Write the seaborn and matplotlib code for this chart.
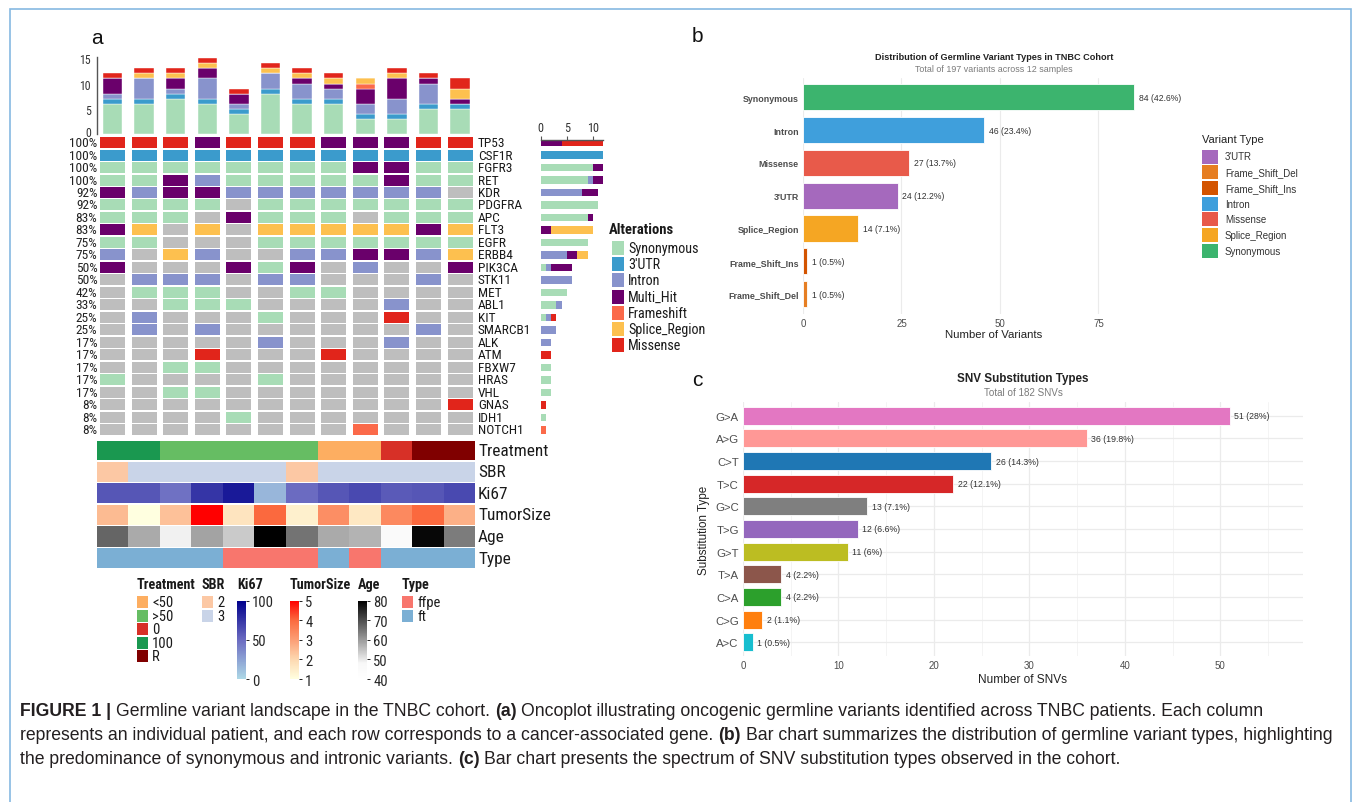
import numpy as np
import pandas as pd
import matplotlib
matplotlib.use("Agg")
import matplotlib.pyplot as plt
import matplotlib.transforms as mtrans
import seaborn as sns
from matplotlib.colors import ListedColormap, LinearSegmentedColormap, Normalize
from matplotlib.patches import Rectangle
from matplotlib.cm import ScalarMappable
from matplotlib import font_manager as fm

W, H, DPI = 1354, 803, 100

# ---------------- data: panel a (oncoplot) ----------------
samples = [f"P{i}" for i in range(1, 13)]
genes = ["TP53", "CSF1R", "FGFR3", "RET", "KDR", "PDGFRA", "APC", "FLT3", "EGFR",
         "ERBB4", "PIK3CA", "STK11", "MET", "ABL1", "KIT", "SMARCB1", "ALK", "ATM",
         "FBXW7", "HRAS", "VHL", "GNAS", "IDH1", "NOTCH1"]
gene_pct_labels = ["100%", "100%", "100%", "100%", "92%", "92%", "83%", "83%", "75%",
                   "75%", "50%", "50%", "42%", "33%", "25%", "25%", "17%", "17%",
                   "17%", "17%", "17%", "8%", "8%", "8%"]
# codes: G Synonymous, U 3'UTR, I Intron, M Multi_Hit, F Frameshift, S Splice_Region, R Missense, . none
onco_rows = [
    "RRRMRRRMMMRR",  # TP53
    "UUUUUUUUUUUU",  # CSF1R
    "GGGGGGGGMMGG",  # FGFR3
    "GGMIGGGGGMGG",  # RET
    "MIMMIIIIIII.",  # KDR
    "GGGG.GGGGGGG",  # PDGFRA
    "GGG.MGGG.GGG",  # APC
    "MS.S.SSSSSMS",  # FLT3
    "GG...GGGGGGG",  # EGFR
    "I.SI..IIMMIS",  # ERBB4
    "M...MGM.I..M",  # PIK3CA
    ".III.II...I.",  # STK11
    ".GGG..GG....",  # MET
    "..GGG....I..",  # ABL1
    ".I...G...R..",  # KIT
    ".I.I......I.",  # SMARCB1
    ".....I...I..",  # ALK
    "...R...R....",  # ATM
    "..GG........",  # FBXW7
    "G....G......",  # HRAS
    "..GG........",  # VHL
    "...........R",  # GNAS
    "....G.......",  # IDH1
    "........F...",  # NOTCH1
]
alt_codes = ["G", "U", "I", "M", "F", "S", "R"]
alt_names = ["Synonymous", "3'UTR", "Intron", "Multi_Hit", "Frameshift", "Splice_Region", "Missense"]
alt_colors = ["#a8dcb6", "#3b9bcc", "#8893cc", "#6a006b", "#fb6a4a", "#fdc04f", "#e1251b"]
bg_gray = "#bebebe"

treatment = ["100", "100", ">50", ">50", ">50", ">50", ">50", "<50", "<50", "0", "R", "R"]
treatment_levels = ["<50", ">50", "0", "100", "R"]
treatment_colors = ["#fdae61", "#66bd63", "#d73027", "#1a9850", "#800000"]
sbr = ["2", "3", "3", "3", "3", "3", "2", "3", "3", "3", "3", "3"]
sbr_levels = ["2", "3"]
sbr_colors = ["#fcc8a4", "#c9d4e8"]
ki67 = [60, 60, 47, 75, 88, 16, 50, 60, 66, 58, 60, 66]
tumor_size = [2.5, 1.0, 2.4, 5.0, 1.7, 4.0, 1.4, 3.3, 1.6, 3.4, 4.0, 2.7]
age = [67, 58, 49, 59, 54, 80, 65, 58, 57, 46, 79, 64]
sample_type = ["ft", "ft", "ft", "ft", "ffpe", "ffpe", "ffpe", "ft", "ffpe", "ft", "ft", "ft"]
type_levels = ["ffpe", "ft"]
type_colors = ["#f8766d", "#7bafd4"]

# ---------------- data: panel b ----------------
variant_types = ["Synonymous", "Intron", "Missense", "3'UTR", "Splice_Region",
                 "Frame_Shift_Ins", "Frame_Shift_Del"]
variant_counts = [84, 46, 27, 24, 14, 1, 1]
variant_total = 197
variant_legend = ["3'UTR", "Frame_Shift_Del", "Frame_Shift_Ins", "Intron", "Missense",
                  "Splice_Region", "Synonymous"]
variant_colors = {"3'UTR": "#a569bd", "Frame_Shift_Del": "#e67e22", "Frame_Shift_Ins": "#d35400",
                  "Intron": "#3f9fdc", "Missense": "#e85a4a", "Splice_Region": "#f5a623",
                  "Synonymous": "#3cb46e"}

# ---------------- data: panel c ----------------
subst_types = ["G>A", "A>G", "C>T", "T>C", "G>C", "T>G", "G>T", "T>A", "C>A", "C>G", "A>C"]
subst_counts = [51, 36, 26, 22, 13, 12, 11, 4, 4, 2, 1]
subst_total = 182
subst_colors = ["#e377c2", "#ff9896", "#1f77b4", "#d62728", "#7f7f7f", "#9467bd",
                "#bcbd22", "#8c564b", "#2ca02c", "#ff7f0e", "#17becf"]


def pick_font(cands):
    for c in cands:
        try:
            fm.findfont(fm.FontProperties(family=c), fallback_to_default=False)
            return c
        except Exception:
            pass
    return None


NARROW = pick_font(["Liberation Sans Narrow", "Arial Narrow", "DejaVu Sans Condensed",
                    "Roboto Condensed"])
SANS = pick_font(["Liberation Sans", "Arial"]) or "DejaVu Sans"
if NARROW is None:
    NARROW = SANS
    NS = 0.84          # shrink factor when no condensed face is installed
else:
    NS = 1.0

sns.set_style("white")
plt.rcParams["font.family"] = [SANS, "DejaVu Sans"]

fig = plt.figure(figsize=(W / DPI, H / DPI), dpi=DPI)
fig.patch.set_facecolor("white")


def add_ax(x0, y0, x1, y1):
    return fig.add_axes([x0 / W, 1 - y1 / H, (x1 - x0) / W, (y1 - y0) / H])


def fx(x):
    return x / W


def fy(y):
    return 1 - y / H


def fig_rect(x0, y0, w, h, color):
    fig.add_artist(Rectangle((x0 / W, 1 - (y0 + h) / H), w / W, h / H,
                             transform=fig.transFigure, fc=color, ec="none"))


# frame
fig.add_artist(Rectangle((10 / W, 1 - 830 / H), 1341 / W, 820 / H, transform=fig.transFigure,
                         fill=False, ec="#86b9e2", lw=1.2))

# ---------------- panel a ----------------
mat = np.array([list(r) for r in onco_rows])
n_g, n_s = mat.shape
code_color = dict(zip(alt_codes, alt_colors))
code_color["."] = bg_gray

MX0, MX1 = 96.7, 475.9
ax_m = add_ax(MX0, 137.3, MX1, 437.0)
for j in range(n_s):
    cols = [code_color[c] for c in mat[:, j]]
    ax_m.barh(y=np.arange(n_g), width=0.79, left=j - 0.395, height=0.88, color=cols,
              edgecolor="none")
ax_m.set_xlim(-0.5, n_s - 0.5)
ax_m.set_ylim(n_g - 0.5, -0.5)
ax_m.axis("off")
tr_m = mtrans.blended_transform_factory(fig.transFigure, ax_m.transData)
for i, g in enumerate(genes):
    ax_m.text(fx(478), i, g, transform=tr_m, ha="left", va="center", fontsize=9.6 * NS,
              family=NARROW, color="#1a1a1a", clip_on=False)
    ax_m.text(fx(97.5), i, gene_pct_labels[i], transform=tr_m, ha="right", va="center",
              fontsize=9.6 * NS, family=NARROW, color="#222222", clip_on=False)

# top stacked bar (variants per sample)
ax_t = add_ax(MX0, 58.3, MX1, 135.0)
bottom = np.zeros(n_s)
for code, colr in zip(alt_codes, alt_colors):
    cnt = (mat == code).sum(axis=0)
    ax_t.bar(np.arange(n_s), cnt, bottom=bottom, width=0.62, color=colr,
             edgecolor="white", linewidth=0.3)
    bottom += cnt
ax_t.set_xlim(-0.5, n_s - 0.5)
ax_t.set_ylim(0, 15.2)
ax_t.set_yticks([0, 5, 10, 15])
ax_t.set_xticks([])
for s in ["top", "right", "bottom"]:
    ax_t.spines[s].set_visible(False)
ax_t.spines["left"].set_color("#555555")
ax_t.spines["left"].set_linewidth(1.0)
ax_t.spines["left"].set_bounds(0, 15.2)
ax_t.tick_params(axis="y", length=3, width=0.8, color="#555555", pad=1, labelsize=8.6 * NS,
                 labelcolor="#333333")
for lab in ax_t.get_yticklabels():
    lab.set_family(NARROW)
# lift the "0" label slightly so it clears the first percentage label
fig.canvas.draw()
zero_lab = ax_t.get_yticklabels()[0]
zero_lab.set_transform(zero_lab.get_transform() +
                       mtrans.ScaledTranslation(0, 2.5 / 72, fig.dpi_scale_trans))
ax_t.set_facecolor("none")

# right stacked bar (samples per gene)
ax_r = add_ax(540.7, 140.5, 603.1, 437.0)
left = np.zeros(n_g)
for code, colr in zip(alt_codes, alt_colors):
    cnt = (mat == code).sum(axis=1)
    ax_r.barh(np.arange(n_g), cnt, left=left, height=0.6, color=colr, edgecolor="none")
    left += cnt
ax_r.set_xlim(0, 12)
ax_r.set_ylim(n_g - 0.5, -0.5 + 3.2 / 12.49)
ax_r.set_yticks([])
ax_r.xaxis.tick_top()
ax_r.set_xticks([0, 5, 10])
for s in ["bottom", "right", "left"]:
    ax_r.spines[s].set_visible(False)
ax_r.spines["top"].set_color("#555555")
ax_r.spines["top"].set_linewidth(1.0)
ax_r.tick_params(axis="x", length=3, width=0.8, color="#555555", pad=1, labelsize=8.8 * NS,
                 labelcolor="#333333")
for lab in ax_r.get_xticklabels():
    lab.set_family(NARROW)
ax_r.set_facecolor("none")

# alterations legend
fig.text(fx(609), fy(230), "Alterations", fontsize=10.5 * NS, fontweight="bold", family=NARROW,
         ha="left", va="center", color="#1a1a1a")
for k, (nm, colr) in enumerate(zip(alt_names, alt_colors)):
    yc = 249 + k * 16.2
    fig_rect(612, yc - 7, 11.5, 14, colr)
    fig.text(fx(628), fy(yc), nm, fontsize=10.2 * NS, family=NARROW, ha="left", va="center",
             color="#1a1a1a")

# annotation tracks
ki_cmap = LinearSegmentedColormap.from_list("ki", [(0, "#add8e6"), (0.5, "#6b6bc1"), (1, "#00008b")])
ts_cmap = LinearSegmentedColormap.from_list(
    "ts", [(0, "#ffffe0"), (0.25, "#fdd8b0"), (0.5, "#fc9e75"), (0.75, "#fb6a3f"), (1, "#ff0000")])
age_cmap = LinearSegmentedColormap.from_list("age", [(0, "#ffffff"), (0.2, "#f8f8f8"), (1, "#000000")])

tracks = [
    ("Treatment", [treatment_levels.index(v) for v in treatment], ListedColormap(treatment_colors),
     -0.5, len(treatment_levels) - 0.5, 441.7, 461.2),
    ("SBR", [sbr_levels.index(v) for v in sbr], ListedColormap(sbr_colors), -0.5, 1.5, 462.8, 482.6),
    ("Ki67", ki67, ki_cmap, 0, 100, 484.2, 504.2),
    ("TumorSize", tumor_size, ts_cmap, 1, 5, 505.7, 525.7),
    ("Age", age, age_cmap, 40, 80, 527.3, 547.6),
    ("Type", [type_levels.index(v) for v in sample_type], ListedColormap(type_colors), -0.5, 1.5,
     549.1, 569.3),
]
for name, vals, cmap, vmin, vmax, y0, y1 in tracks:
    axa = add_ax(MX0, y0, MX1 - 0.5, y1)
    df = pd.DataFrame([vals], columns=samples, index=[name])
    sns.heatmap(df, ax=axa, cmap=cmap, vmin=vmin, vmax=vmax, cbar=False,
                xticklabels=False, yticklabels=False)
    axa.tick_params(length=0)
    fig.text(fx(478), fy((y0 + y1) / 2), name, fontsize=12.4 * NS, family=NARROW, ha="left",
             va="center", color="#1a1a1a")

# bottom legends
LEG_T = 585


def leg_title(x, t):
    fig.text(fx(x), fy(LEG_T), t, fontsize=10.2 * NS, fontweight="bold", family=NARROW,
             ha="left", va="center", color="#1a1a1a")


def leg_boxes(x, levels, colors):
    for k, (lv, c) in enumerate(zip(levels, colors)):
        yc = 603 + k * 13.6
        fig_rect(x, yc - 6, 11, 12, c)
        fig.text(fx(x + 15), fy(yc), lv, fontsize=10.5 * NS, family=NARROW, ha="left",
                 va="center", color="#1a1a1a")


def leg_cbar(x, cmap, vmin, vmax, ticks):
    cax = add_ax(x, 601.7, x + 9, 680)
    cb = fig.colorbar(ScalarMappable(norm=Normalize(vmin, vmax), cmap=cmap), cax=cax)
    cb.outline.set_visible(False)
    cb.set_ticks(ticks)
    cax.tick_params(length=2.5, width=0.7, color="#222222", pad=2, labelsize=10.5 * NS)
    for lab in cax.get_yticklabels():
        lab.set_family(NARROW)


leg_title(137, "Treatment")
leg_boxes(137, treatment_levels, treatment_colors)
leg_title(202, "SBR")
leg_boxes(202, sbr_levels, sbr_colors)
leg_title(237, "Ki67")
leg_cbar(237, ki_cmap, 0, 100, [0, 50, 100])
leg_title(290, "TumorSize")
leg_cbar(290, ts_cmap, 1, 5, [1, 2, 3, 4, 5])
leg_title(358, "Age")
leg_cbar(358, age_cmap, 40, 80, [40, 50, 60, 70, 80])
leg_title(402, "Type")
leg_boxes(402, type_levels, type_colors)

# ---------------- panel b ----------------
axb = add_ax(803, 78.6, 1183.6, 314.7)
axb.set_axisbelow(True)
sns.barplot(x=variant_counts, y=variant_types, hue=variant_types, palette=variant_colors,
            orient="h", width=0.8, saturation=1, legend=False, ax=axb,
            edgecolor="white", linewidth=0.6)
axb.set_xlim(0, 96.6)
axb.set_ylim(len(variant_types) - 0.4, -0.6)
axb.set_xticks([0, 25, 50, 75])
axb.grid(axis="x", color="#ebebeb", lw=0.8)
axb.grid(axis="y", visible=False)
for s in axb.spines.values():
    s.set_visible(False)
axb.tick_params(length=0, labelsize=7, labelcolor="#4d4d4d", pad=3)
for lab in axb.get_yticklabels():
    lab.set_fontweight("bold")
    lab.set_fontsize(6.4)
axb.set_xlabel("Number of Variants", fontsize=8.2, color="#222222", labelpad=1)
axb.set_ylabel("")
for i, v in enumerate(variant_counts):
    pct = f"{round(v / variant_total * 100, 1):g}"
    axb.annotate(f"{v} ({pct}%)", (v, i), xytext=(3.5, 0), textcoords="offset points",
                 va="center", ha="left", fontsize=6.2, color="#333333")
fig.text(fx(994), fy(57), "Distribution of Germline Variant Types in TNBC Cohort",
         fontsize=6.6, fontweight="bold", ha="center", va="center", color="#222222")
fig.text(fx(994), fy(70), "Total of 197 variants across 12 samples", fontsize=6.4,
         ha="center", va="center", color="#7a7a7a")
fig.text(fx(1202), fy(140), "Variant Type", fontsize=8, ha="left", va="center", color="#222222")
for k, nm in enumerate(variant_legend):
    yc = 157.5 + k * 15.7
    fig_rect(1202, yc - 7, 16, 14, variant_colors[nm])
    fig.text(fx(1225), fy(yc), nm, fontsize=7, ha="left", va="center", color="#333333")

# ---------------- panel c ----------------
axc = add_ax(743, 403.1, 1303, 656.9)
axc.set_axisbelow(True)
sns.barplot(x=subst_counts, y=subst_types, hue=subst_types, palette=subst_colors,
            orient="h", width=0.8, saturation=1, legend=False, ax=axc,
            edgecolor="white", linewidth=0.6)
axc.set_xlim(0, 58.65)
axc.set_ylim(len(subst_types) - 0.4, -0.6)
axc.set_xticks([0, 10, 20, 30, 40, 50])
axc.set_xticks([5, 15, 25, 35, 45, 55], minor=True)
axc.grid(axis="x", which="major", color="#ebebeb", lw=0.9)
axc.grid(axis="x", which="minor", color="#f2f2f2", lw=0.6)
axc.grid(axis="y", which="major", color="#ebebeb", lw=0.9)
for s in axc.spines.values():
    s.set_visible(False)
axc.tick_params(which="both", length=0, labelsize=7, labelcolor="#4d4d4d", pad=3)
for lab in axc.get_yticklabels():
    lab.set_fontsize(8.2)
axc.set_xlabel("Number of SNVs", fontsize=8.6, color="#222222", labelpad=2)
axc.set_ylabel("Substitution Type", fontsize=8.4, color="#222222", labelpad=4)
for i, v in enumerate(subst_counts):
    pct = f"{round(v / subst_total * 100, 1):g}"
    axc.annotate(f"{v} ({pct}%)", (v, i), xytext=(3.2, 0), textcoords="offset points",
                 va="center", ha="left", fontsize=6.3, color="#333333")
fig.text(fx(1023), fy(379), "SNV Substitution Types", fontsize=8.4, fontweight="bold",
         ha="center", va="center", color="#222222")
fig.text(fx(1023), fy(393), "Total of 182 SNVs", fontsize=7.1, ha="center", va="center",
         color="#7a7a7a")

# panel letters
for x, y, t in [(97, 38, "a"), (697, 36, "b"), (697, 381, "c")]:
    fig.text(fx(x), fy(y), t, fontsize=15, ha="center", va="center", color="#111111")

# ---------------- caption ----------------
renderer = fig.canvas.get_renderer()


def text_w(s, size, bold):
    fp = fm.FontProperties(family=SANS, size=size, weight="bold" if bold else "normal")
    w1, _, _ = renderer.get_text_width_height_descent("x" + s + "x", fp, ismath=False)
    w0, _, _ = renderer.get_text_width_height_descent("xx", fp, ismath=False)
    return w1 - w0


caption_lines = [
    [("FIGURE 1 |", True), (" Germline variant landscape in the TNBC cohort. ", False), ("(a)", True),
     (" Oncoplot illustrating oncogenic germline variants identified across TNBC patients. Each column", False)],
    [("represents an individual patient, and each row corresponds to a cancer-associated gene. ", False),
     ("(b)", True), (" Bar chart summarizes the distribution of germline variant types, highlighting", False)],
    [("the predominance of synonymous and intronic variants. ", False), ("(c)", True),
     (" Bar chart presents the spectrum of SNV substitution types observed in the cohort.", False)],
]
base = 11.5
w_line1 = sum(text_w(p, base, b) for p, b in caption_lines[0])
w_line2 = sum(text_w(p, base, b) for p, b in caption_lines[1])
cap_size = base * min((1280 - 20) / w_line1, (1336 - 20) / w_line2)
for li, parts in enumerate(caption_lines):
    x = 20.0
    yc = 712 + li * 24
    for p, b in parts:
        lead = len(p) - len(p.lstrip(" "))
        trail = len(p) - len(p.rstrip(" "))
        core = p.strip(" ")
        if lead:
            x += text_w(" " * lead, cap_size, b)
        fig.text(fx(x), fy(yc), core, fontsize=cap_size, fontweight="bold" if b else "normal",
                 family=SANS, ha="left", va="center", color="#231f20")
        x += text_w(core, cap_size, b)
        if trail:
            x += text_w(" " * trail, cap_size, b)

fig.savefig("out.png", dpi=DPI, facecolor="white")
